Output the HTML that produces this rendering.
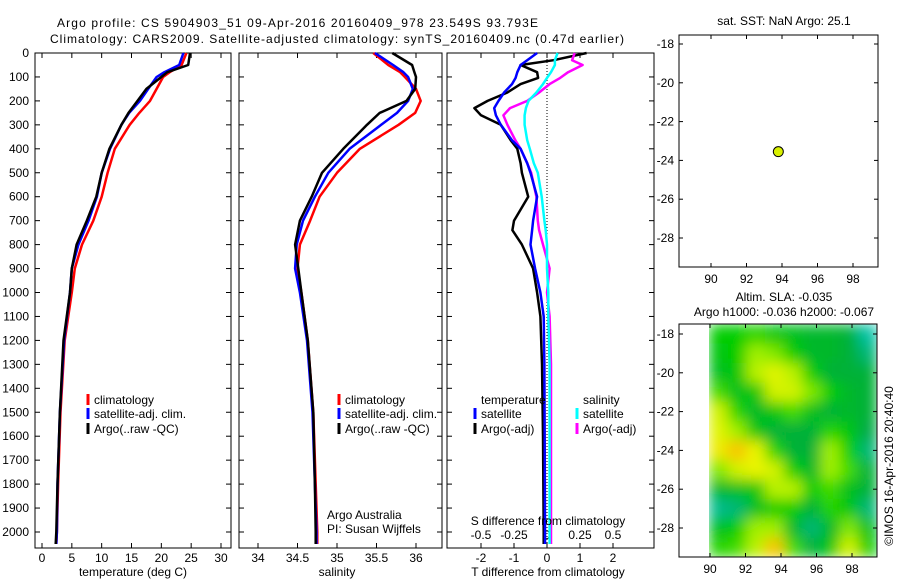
<!DOCTYPE html>
<html><head><meta charset="utf-8"><style>
body{margin:0;background:#fff;}
svg text{font-family:"Liberation Sans",sans-serif;font-size:12px;fill:#000;}
</style></head><body>
<svg id="svg" width="900" height="580" viewBox="0 0 900 580" xmlns="http://www.w3.org/2000/svg">
<defs>
<filter id="blur" x="0" y="0" width="1" height="1"><feGaussianBlur stdDeviation="7" edgeMode="duplicate"/></filter>
<clipPath id="mapclip"><rect x="709" y="324" width="168" height="233"/></clipPath>
</defs>
<rect width="900" height="580" fill="#fff"/>
<text x="57" y="27" font-size="13" textLength="481">Argo profile: CS 5904903_51 09-Apr-2016 20160409_978 23.549S 93.793E</text>
<text x="50" y="43" font-size="13" textLength="574">Climatology: CARS2009. Satellite-adjusted climatology: synTS_20160409.nc (0.47d earlier)</text>
<text x="784" y="25" text-anchor="middle" font-size="12">sat. SST: NaN Argo: 25.1</text>
<text x="784" y="301" text-anchor="middle">Altim. SLA: -0.035</text>
<text x="784" y="316" text-anchor="middle">Argo h1000: -0.036 h2000: -0.067</text>
<text transform="translate(893,466) rotate(-90)" text-anchor="middle" font-size="12">©IMOS 16-Apr-2016 20:40:40</text>
<g id="heat" clip-path="url(#mapclip)"><g id="heatcells" filter="url(#blur)"></g></g>
<g id="g"></g>
</svg>
<script>
// ---- data ----
const depthT = [0,50,80,100,150,200,250,300,400,500,600,700,800,900,1000,1200,1500,1800,2000,2050];
const tempClim = [24.2,23.4,21.4,20.3,19.2,18.1,16.3,14.7,12.2,11.0,10.0,8.6,6.7,5.5,5.0,3.8,3.1,2.7,2.5,2.4];
const tempSat  = [23.7,23.0,20.5,19.2,17.8,16.4,14.6,13.3,11.4,10.0,9.2,7.8,6.1,5.0,4.7,3.7,3.0,2.6,2.5,2.4];
const tempArgo = [24.8,24.5,21.0,20.0,17.5,16.0,14.5,13.3,11.3,10.0,9.1,7.5,5.8,5.0,4.7,3.6,3.0,2.6,2.4,2.3];
const salClim = [35.46,35.65,35.80,35.86,36.0,36.06,35.99,35.78,35.29,35.0,34.78,34.66,34.53,34.5,34.55,34.63,34.70,34.73,34.75,34.75];
const salSat  = [35.48,35.71,35.84,35.9,35.96,35.9,35.76,35.56,35.16,34.89,34.72,34.57,34.49,34.47,34.53,34.62,34.69,34.72,34.74,34.74];
const salArgo = [35.7,35.95,35.98,36.0,35.99,35.88,35.54,35.38,35.08,34.81,34.68,34.53,34.47,34.51,34.55,34.63,34.70,34.72,34.73,34.73];
const depthD = [0,30,50,80,104,130,165,200,230,260,300,364,400,460,500,600,700,740,800,900,1000,1100,1300,1600,2000,2050];
const dTsat  = [-0.3,-0.6,-0.8,-0.9,-0.95,-1.06,-1.3,-1.47,-1.6,-1.55,-1.4,-1.06,-0.8,-0.6,-0.5,-0.3,-0.42,-0.45,-0.5,-0.36,-0.2,-0.1,-0.08,-0.07,-0.06,-0.06];
const dTargo = [1.2,0.2,-0.8,-0.3,-0.27,-0.8,-1.2,-1.8,-2.2,-2.0,-1.4,-1.1,-0.9,-0.8,-0.76,-0.57,-1.0,-1.05,-0.76,-0.42,-0.3,-0.2,-0.15,-0.12,-0.1,-0.1];
const dSsat  = [0.08,0.06,0.06,0.03,0.0,-0.03,-0.08,-0.14,-0.16,-0.17,-0.17,-0.15,-0.13,-0.1,-0.07,-0.04,-0.02,-0.01,0.0,0.0,0.01,0.01,0.02,0.02,0.02,0.02];
const dSargo = [0.21,0.19,0.27,0.16,0.1,0.02,-0.06,-0.15,-0.28,-0.33,-0.3,-0.24,-0.2,-0.15,-0.12,-0.08,-0.07,-0.06,-0.03,0.02,0.0,0.02,0.03,0.03,0.03,0.03];
const depthTicks = [0,100,200,300,400,500,600,700,800,900,1000,1100,1200,1300,1400,1500,1600,1700,1800,1900,2000];
const tempTicks = [0,5,10,15,20,25,30];
const salTicks = [34,34.5,35,35.5,36];
const salTickLabels = ["34","34.5","35","35.5","36"];
const dTTicks = [-2,-1,0,1,2];
const dSTicks = [-0.5,-0.25,0,0.25,0.5];
const dSTickLabels = ["-0.5","-0.25","0","0.25","0.5"];
const lonTicks = [90,92,94,96,98];
const latTicks = [-18,-20,-22,-24,-26,-28];
const argoLon = 93.793, argoLat = -23.549;
const slaGrid = [
[0.5,0.5,0.55,0.45,0.4,0.35,0.35,0.3,0.05],
[0.45,0.5,0.75,0.7,0.5,0.35,0.35,0.3,0.15],
[0.4,0.45,0.8,0.88,0.8,0.5,0.3,0.3,0.3],
[0.6,0.4,0.45,0.85,0.85,0.7,0.5,0.35,0.3],
[0.85,0.55,0.35,0.45,0.6,0.4,0.3,0.35,0.3],
[0.88,0.75,0.45,0.3,0.3,0.3,0.55,0.45,0.25],
[0.92,1.0,0.9,0.55,0.3,0.3,0.75,0.5,0.15],
[0.7,0.85,0.9,0.85,0.5,0.35,0.75,0.6,0.3],
[0.35,0.4,0.45,0.8,0.8,0.5,0.6,0.4,0.3],
[0.1,0.15,0.4,0.5,0.5,0.3,0.55,0.45,0.15],
[0.4,0.5,0.75,0.75,0.35,0.15,0.35,0.7,0.4],
[0.55,0.6,0.8,1.0,0.6,0.3,0.45,0.85,0.5]];

// ---- helpers ----
const NS="http://www.w3.org/2000/svg";
const G=document.getElementById('g');
function mk(tag,attrs,parent){const e=document.createElementNS(NS,tag);for(const k in attrs)e.setAttribute(k,attrs[k]);(parent||G).appendChild(e);return e;}
const yTop=53, yBot=548;
const yD=d=>yTop+d*0.2395;
function lin(d0,d1,p0,p1){return v=>p0+(v-d0)*(p1-p0)/(d1-d0);}

function panel(name,x0,x1,xs,ticks,labels,showY){
  const r=mk('rect',{x:x0,y:yTop,width:x1-x0,height:yBot-yTop,fill:'none',stroke:'#000','stroke-width':1});
  
  
  depthTicks.forEach(d=>{
    const y=yD(d);
    const t=mk('line',{x1:x0,x2:x0+5,y1:y,y2:y,stroke:'#000'});
    
    
    const t2=mk('line',{x1:x1,x2:x1-5,y1:y,y2:y,stroke:'#000'});
    
    
    if(showY){
      const l=mk('text',{x:x0-6,y:y+4,'text-anchor':'end'});l.textContent=d;
      
      
    }
  });
  ticks.forEach((v,i)=>{
    const x=xs(v);
    const t=mk('line',{x1:x,x2:x,y1:yBot,y2:yBot-5,stroke:'#000'});
    
    
    const t2=mk('line',{x1:x,x2:x,y1:yTop,y2:yTop+5,stroke:'#000'});
    
    
    const l=mk('text',{x:x,y:yBot+14,'text-anchor':'middle'});l.textContent=labels[i];
    
    
  });
}
function line(name,xs,vals,depths,color,w){
  const pts=vals.map((v,i)=>xs(v).toFixed(1)+','+yD(depths[i]).toFixed(1)).join(' ');
  const p=mk('polyline',{points:pts,fill:'none',stroke:color,'stroke-width':w||2.5,'stroke-linejoin':'round'});
  
  
}
function txt(s,x,y,name,anchor){const t=mk('text',{x:x,y:y,'text-anchor':anchor||'start'});t.textContent=s;
  
  return t;}
function legend(x,y,color,label,name){
  const m=mk('line',{x1:x,x2:x,y1:y-10,y2:y+1,stroke:color,'stroke-width':3});
  
  
  txt(label,x+6,y,name);
}

// Temperature panel
const xT=lin(0,30,42,221);
panel('temperature-panel',35,231,xT,tempTicks,tempTicks.map(String),true);
line('temp-climatology-line',xT,tempClim,depthT,'#f00');
line('temp-satellite-line',xT,tempSat,depthT,'#00f');
line('temp-argo-line',xT,tempArgo,depthT,'#000');
txt('temperature (deg C)',133,576,'temperature-axis-title','middle');
legend(88,404,'#f00','climatology','legend-temp-climatology');
legend(88,418,'#00f','satellite-adj. clim.','legend-temp-satellite');
legend(88,433,'#000','Argo(..raw -QC)','legend-temp-argo');

// Salinity panel
const xS=lin(34,36,258,416);
panel('salinity-panel',239,442,xS,salTicks,salTickLabels,false);
line('sal-climatology-line',xS,salClim,depthT,'#f00');
line('sal-satellite-line',xS,salSat,depthT,'#00f');
line('sal-argo-line',xS,salArgo,depthT,'#000');
txt('salinity',337,576,'salinity-axis-title','middle');
legend(339,404,'#f00','climatology','legend-sal-climatology');
legend(339,418,'#00f','satellite-adj. clim.','legend-sal-satellite');
legend(339,433,'#000','Argo(..raw -QC)','legend-sal-argo');
txt('Argo Australia',327,519,'argo-australia-label');
txt('PI: Susan Wijffels',327,533,'pi-label');

// Difference panel
const xDT=lin(-2,2,481,613);
const xDS=lin(-0.5,0.5,481,613);
panel('difference-panel',447,654,xDT,dTTicks,dTTicks.map(String),false);
const z=mk('line',{x1:xDT(0),x2:xDT(0),y1:yTop,y2:yBot,stroke:'#000','stroke-dasharray':'1,2'});


dSTicks.forEach((v,i)=>{txt(dSTickLabels[i],xDS(v),539,'s-diff-tick-label','middle');});
line('dT-argo-line',xDT,dTargo,depthD,'#000');
line('dS-argo-line',xDS,dSargo,depthD,'#f0f');
line('dS-satellite-line',xDS,dSsat,depthD,'#0ff');
line('dT-satellite-line',xDT,dTsat,depthD,'#00f');
txt('T difference from climatology',548,576,'t-diff-axis-title','middle');
txt('S difference from climatology',548,525,'s-diff-axis-title','middle');
txt('temperature',481,404,'legend-temperature-header');
legend(475,418,'#00f','satellite','legend-dT-satellite');
legend(475,433,'#000','Argo(-adj)','legend-dT-argo');
txt('salinity',583,404,'legend-salinity-header');
legend(577,418,'#0ff','satellite','legend-dS-satellite');
legend(577,433,'#f0f','Argo(-adj)','legend-dS-argo');

// Maps
function mapFrame(name,x0,x1,y0,y1,xl,yl){
  lonTicks.forEach(v=>{const x=xl(v);
    const a=mk('line',{x1:x,x2:x,y1:y1,y2:y1-4,stroke:'#000'});
    
    
    const b=mk('line',{x1:x,x2:x,y1:y0,y2:y0+4,stroke:'#000'});
    
    
    txt(String(v),x,y1+16,name+'-lon-label','middle');});
  latTicks.forEach(v=>{const y=yl(v);
    const a=mk('line',{x1:x0,x2:x0+4,y1:y,y2:y,stroke:'#000'});
    
    
    const b=mk('line',{x1:x1,x2:x1-4,y1:y,y2:y,stroke:'#000'});
    
    
    txt(String(v),x0-5,y+4,name+'-lat-label','end');});
  const r=mk('rect',{x:x0,y:y0,width:x1-x0,height:y1-y0,fill:'none',stroke:'#000'});
  
  
}
const lon1=lin(90,98,711,853), lat1=lin(-18,-28,44,238);
mapFrame('sst-map',679,878,35,267,lon1,lat1);
const dot=mk('circle',{cx:lon1(argoLon),cy:lat1(argoLat),r:5,fill:'#d8f000',stroke:'#000','stroke-width':1});



const lon2=lin(90,98,710,852), lat2=lin(-18,-28,334,528);
const stops=[[0,[0,200,190]],[0.25,[0,170,70]],[0.5,[0,205,0]],[0.75,[160,240,0]],[0.9,[235,245,0]],[1,[250,195,0]]];
function cmap(v){for(let i=1;i<stops.length;i++){if(v<=stops[i][0]){const a=stops[i-1],b=stops[i],t=(v-a[0])/(b[0]-a[0]);return 'rgb('+a[1].map((c,k)=>Math.round(c+(b[1][k]-c)*t)).join(',')+')';}}return 'rgb(250,195,0)';}
const lonStart=89.95, lonEnd=99.4, latStart=-17.5, latEnd=-29.5;
const nr=slaGrid.length, nc=slaGrid[0].length;
const cw=(lonEnd-lonStart)/nc, ch=(latStart-latEnd)/nr;
const HC=document.getElementById('heatcells');
slaGrid.forEach((row,i)=>row.forEach((v,j)=>{
  const xa=lon2(lonStart+j*cw), xb=lon2(lonStart+(j+1)*cw);
  const ya=lat2(latStart-i*ch), yb=lat2(latStart-(i+1)*ch);
  const c=mk('rect',{x:xa,y:ya,width:xb-xa+0.5,height:yb-ya+0.5,fill:cmap(v)},HC);
  
  
}));
mapFrame('sla-map',679,877,324,557,lon2,lat2);
</script>
</body></html>
